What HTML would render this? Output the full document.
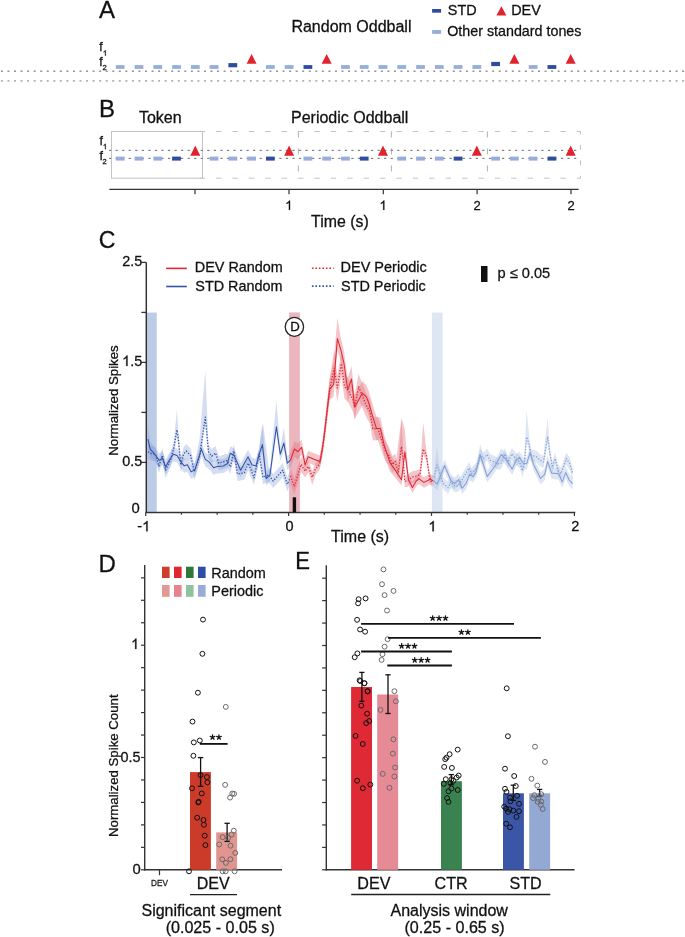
<!DOCTYPE html>
<html><head><meta charset="utf-8"><style>
html,body{margin:0;padding:0;background:#fff;}
svg{display:block;font-family:"Liberation Sans", sans-serif;will-change:transform;} text{stroke:#111;stroke-width:0.28px;}
</style></head><body>
<svg width="685" height="937" viewBox="0 0 685 937">
<rect width="685" height="937" fill="#fff"/>
<text x="99.00" y="17.80" font-size="24" fill="#111" >A</text>
<text x="291.42" y="31.50" font-size="16" fill="#111" >Random Oddball</text>
<rect x="432.10" y="9.00" width="9.00" height="3.70" fill="#2e4da0" />
<text x="447.85" y="15.10" font-size="14.4" fill="#111" >STD</text>
<polygon points="496.40,15.40 506.40,15.40 501.40,6.20" fill="#e0232e"/>
<text x="511.15" y="15.10" font-size="14.4" fill="#111" >DEV</text>
<rect x="432.10" y="30.00" width="9.00" height="3.90" fill="#97aedb" />
<text x="447.16" y="35.90" font-size="14.3" fill="#111" >Other standard tones</text>
<text x="99.22" y="50.80" font-size="12.2" fill="#111" >f</text>
<path d="M 0.372 0 L 0.284 0 L 0.284 -0.560 C 0.263 -0.540 0.235 -0.520 0.200 -0.499 C 0.165 -0.479 0.134 -0.463 0.106 -0.453 L 0.106 -0.538 C 0.155 -0.561 0.199 -0.589 0.236 -0.622 C 0.273 -0.655 0.299 -0.687 0.314 -0.716 L 0.372 -0.716 Z" transform="translate(102.83 55.80) scale(7.6)" fill="#111" stroke="#111" stroke-width="0.28" vector-effect="non-scaling-stroke"/>
<text x="99.22" y="65.60" font-size="12.2" fill="#111" >f</text>
<text x="102.52" y="70.40" font-size="7.6" fill="#111" >2</text>
<rect x="0.90" y="70.50" width="2.00" height="1.40" fill="#8a8a8a" />
<rect x="7.45" y="70.50" width="2.00" height="1.40" fill="#8a8a8a" />
<rect x="14.00" y="70.50" width="2.00" height="1.40" fill="#8a8a8a" />
<rect x="20.55" y="70.50" width="2.00" height="1.40" fill="#8a8a8a" />
<rect x="27.10" y="70.50" width="2.00" height="1.40" fill="#8a8a8a" />
<rect x="33.65" y="70.50" width="2.00" height="1.40" fill="#8a8a8a" />
<rect x="40.20" y="70.50" width="2.00" height="1.40" fill="#8a8a8a" />
<rect x="46.75" y="70.50" width="2.00" height="1.40" fill="#8a8a8a" />
<rect x="53.30" y="70.50" width="2.00" height="1.40" fill="#8a8a8a" />
<rect x="59.85" y="70.50" width="2.00" height="1.40" fill="#8a8a8a" />
<rect x="66.40" y="70.50" width="2.00" height="1.40" fill="#8a8a8a" />
<rect x="72.95" y="70.50" width="2.00" height="1.40" fill="#8a8a8a" />
<rect x="79.50" y="70.50" width="2.00" height="1.40" fill="#8a8a8a" />
<rect x="86.05" y="70.50" width="2.00" height="1.40" fill="#8a8a8a" />
<rect x="92.60" y="70.50" width="2.00" height="1.40" fill="#8a8a8a" />
<rect x="99.15" y="70.50" width="2.00" height="1.40" fill="#8a8a8a" />
<rect x="105.70" y="70.50" width="2.00" height="1.40" fill="#8a8a8a" />
<rect x="112.25" y="70.50" width="2.00" height="1.40" fill="#8a8a8a" />
<rect x="118.80" y="70.50" width="2.00" height="1.40" fill="#8a8a8a" />
<rect x="125.35" y="70.50" width="2.00" height="1.40" fill="#8a8a8a" />
<rect x="131.90" y="70.50" width="2.00" height="1.40" fill="#8a8a8a" />
<rect x="138.45" y="70.50" width="2.00" height="1.40" fill="#8a8a8a" />
<rect x="145.00" y="70.50" width="2.00" height="1.40" fill="#8a8a8a" />
<rect x="151.55" y="70.50" width="2.00" height="1.40" fill="#8a8a8a" />
<rect x="158.10" y="70.50" width="2.00" height="1.40" fill="#8a8a8a" />
<rect x="164.65" y="70.50" width="2.00" height="1.40" fill="#8a8a8a" />
<rect x="171.20" y="70.50" width="2.00" height="1.40" fill="#8a8a8a" />
<rect x="177.75" y="70.50" width="2.00" height="1.40" fill="#8a8a8a" />
<rect x="184.30" y="70.50" width="2.00" height="1.40" fill="#8a8a8a" />
<rect x="190.85" y="70.50" width="2.00" height="1.40" fill="#8a8a8a" />
<rect x="197.40" y="70.50" width="2.00" height="1.40" fill="#8a8a8a" />
<rect x="203.95" y="70.50" width="2.00" height="1.40" fill="#8a8a8a" />
<rect x="210.50" y="70.50" width="2.00" height="1.40" fill="#8a8a8a" />
<rect x="217.05" y="70.50" width="2.00" height="1.40" fill="#8a8a8a" />
<rect x="223.60" y="70.50" width="2.00" height="1.40" fill="#8a8a8a" />
<rect x="230.15" y="70.50" width="2.00" height="1.40" fill="#8a8a8a" />
<rect x="236.70" y="70.50" width="2.00" height="1.40" fill="#8a8a8a" />
<rect x="243.25" y="70.50" width="2.00" height="1.40" fill="#8a8a8a" />
<rect x="249.80" y="70.50" width="2.00" height="1.40" fill="#8a8a8a" />
<rect x="256.35" y="70.50" width="2.00" height="1.40" fill="#8a8a8a" />
<rect x="262.90" y="70.50" width="2.00" height="1.40" fill="#8a8a8a" />
<rect x="269.45" y="70.50" width="2.00" height="1.40" fill="#8a8a8a" />
<rect x="276.00" y="70.50" width="2.00" height="1.40" fill="#8a8a8a" />
<rect x="282.55" y="70.50" width="2.00" height="1.40" fill="#8a8a8a" />
<rect x="289.10" y="70.50" width="2.00" height="1.40" fill="#8a8a8a" />
<rect x="295.65" y="70.50" width="2.00" height="1.40" fill="#8a8a8a" />
<rect x="302.20" y="70.50" width="2.00" height="1.40" fill="#8a8a8a" />
<rect x="308.75" y="70.50" width="2.00" height="1.40" fill="#8a8a8a" />
<rect x="315.30" y="70.50" width="2.00" height="1.40" fill="#8a8a8a" />
<rect x="321.85" y="70.50" width="2.00" height="1.40" fill="#8a8a8a" />
<rect x="328.40" y="70.50" width="2.00" height="1.40" fill="#8a8a8a" />
<rect x="334.95" y="70.50" width="2.00" height="1.40" fill="#8a8a8a" />
<rect x="341.50" y="70.50" width="2.00" height="1.40" fill="#8a8a8a" />
<rect x="348.05" y="70.50" width="2.00" height="1.40" fill="#8a8a8a" />
<rect x="354.60" y="70.50" width="2.00" height="1.40" fill="#8a8a8a" />
<rect x="361.15" y="70.50" width="2.00" height="1.40" fill="#8a8a8a" />
<rect x="367.70" y="70.50" width="2.00" height="1.40" fill="#8a8a8a" />
<rect x="374.25" y="70.50" width="2.00" height="1.40" fill="#8a8a8a" />
<rect x="380.80" y="70.50" width="2.00" height="1.40" fill="#8a8a8a" />
<rect x="387.35" y="70.50" width="2.00" height="1.40" fill="#8a8a8a" />
<rect x="393.90" y="70.50" width="2.00" height="1.40" fill="#8a8a8a" />
<rect x="400.45" y="70.50" width="2.00" height="1.40" fill="#8a8a8a" />
<rect x="407.00" y="70.50" width="2.00" height="1.40" fill="#8a8a8a" />
<rect x="413.55" y="70.50" width="2.00" height="1.40" fill="#8a8a8a" />
<rect x="420.10" y="70.50" width="2.00" height="1.40" fill="#8a8a8a" />
<rect x="426.65" y="70.50" width="2.00" height="1.40" fill="#8a8a8a" />
<rect x="433.20" y="70.50" width="2.00" height="1.40" fill="#8a8a8a" />
<rect x="439.75" y="70.50" width="2.00" height="1.40" fill="#8a8a8a" />
<rect x="446.30" y="70.50" width="2.00" height="1.40" fill="#8a8a8a" />
<rect x="452.85" y="70.50" width="2.00" height="1.40" fill="#8a8a8a" />
<rect x="459.40" y="70.50" width="2.00" height="1.40" fill="#8a8a8a" />
<rect x="465.95" y="70.50" width="2.00" height="1.40" fill="#8a8a8a" />
<rect x="472.50" y="70.50" width="2.00" height="1.40" fill="#8a8a8a" />
<rect x="479.05" y="70.50" width="2.00" height="1.40" fill="#8a8a8a" />
<rect x="485.60" y="70.50" width="2.00" height="1.40" fill="#8a8a8a" />
<rect x="492.15" y="70.50" width="2.00" height="1.40" fill="#8a8a8a" />
<rect x="498.70" y="70.50" width="2.00" height="1.40" fill="#8a8a8a" />
<rect x="505.25" y="70.50" width="2.00" height="1.40" fill="#8a8a8a" />
<rect x="511.80" y="70.50" width="2.00" height="1.40" fill="#8a8a8a" />
<rect x="518.35" y="70.50" width="2.00" height="1.40" fill="#8a8a8a" />
<rect x="524.90" y="70.50" width="2.00" height="1.40" fill="#8a8a8a" />
<rect x="531.45" y="70.50" width="2.00" height="1.40" fill="#8a8a8a" />
<rect x="538.00" y="70.50" width="2.00" height="1.40" fill="#8a8a8a" />
<rect x="544.55" y="70.50" width="2.00" height="1.40" fill="#8a8a8a" />
<rect x="551.10" y="70.50" width="2.00" height="1.40" fill="#8a8a8a" />
<rect x="557.65" y="70.50" width="2.00" height="1.40" fill="#8a8a8a" />
<rect x="564.20" y="70.50" width="2.00" height="1.40" fill="#8a8a8a" />
<rect x="570.75" y="70.50" width="2.00" height="1.40" fill="#8a8a8a" />
<rect x="577.30" y="70.50" width="2.00" height="1.40" fill="#8a8a8a" />
<rect x="583.85" y="70.50" width="2.00" height="1.40" fill="#8a8a8a" />
<rect x="590.40" y="70.50" width="2.00" height="1.40" fill="#8a8a8a" />
<rect x="596.95" y="70.50" width="2.00" height="1.40" fill="#8a8a8a" />
<rect x="603.50" y="70.50" width="2.00" height="1.40" fill="#8a8a8a" />
<rect x="610.05" y="70.50" width="2.00" height="1.40" fill="#8a8a8a" />
<rect x="616.60" y="70.50" width="2.00" height="1.40" fill="#8a8a8a" />
<rect x="623.15" y="70.50" width="2.00" height="1.40" fill="#8a8a8a" />
<rect x="629.70" y="70.50" width="2.00" height="1.40" fill="#8a8a8a" />
<rect x="636.25" y="70.50" width="2.00" height="1.40" fill="#8a8a8a" />
<rect x="642.80" y="70.50" width="2.00" height="1.40" fill="#8a8a8a" />
<rect x="649.35" y="70.50" width="2.00" height="1.40" fill="#8a8a8a" />
<rect x="655.90" y="70.50" width="2.00" height="1.40" fill="#8a8a8a" />
<rect x="662.45" y="70.50" width="2.00" height="1.40" fill="#8a8a8a" />
<rect x="669.00" y="70.50" width="2.00" height="1.40" fill="#8a8a8a" />
<rect x="675.55" y="70.50" width="2.00" height="1.40" fill="#8a8a8a" />
<rect x="682.10" y="70.50" width="2.00" height="1.40" fill="#8a8a8a" />
<rect x="0.90" y="80.20" width="2.00" height="1.40" fill="#a0a0a0" />
<rect x="7.45" y="80.20" width="2.00" height="1.40" fill="#a0a0a0" />
<rect x="14.00" y="80.20" width="2.00" height="1.40" fill="#a0a0a0" />
<rect x="20.55" y="80.20" width="2.00" height="1.40" fill="#a0a0a0" />
<rect x="27.10" y="80.20" width="2.00" height="1.40" fill="#a0a0a0" />
<rect x="33.65" y="80.20" width="2.00" height="1.40" fill="#a0a0a0" />
<rect x="40.20" y="80.20" width="2.00" height="1.40" fill="#a0a0a0" />
<rect x="46.75" y="80.20" width="2.00" height="1.40" fill="#a0a0a0" />
<rect x="53.30" y="80.20" width="2.00" height="1.40" fill="#a0a0a0" />
<rect x="59.85" y="80.20" width="2.00" height="1.40" fill="#a0a0a0" />
<rect x="66.40" y="80.20" width="2.00" height="1.40" fill="#a0a0a0" />
<rect x="72.95" y="80.20" width="2.00" height="1.40" fill="#a0a0a0" />
<rect x="79.50" y="80.20" width="2.00" height="1.40" fill="#a0a0a0" />
<rect x="86.05" y="80.20" width="2.00" height="1.40" fill="#a0a0a0" />
<rect x="92.60" y="80.20" width="2.00" height="1.40" fill="#a0a0a0" />
<rect x="99.15" y="80.20" width="2.00" height="1.40" fill="#a0a0a0" />
<rect x="105.70" y="80.20" width="2.00" height="1.40" fill="#a0a0a0" />
<rect x="112.25" y="80.20" width="2.00" height="1.40" fill="#a0a0a0" />
<rect x="118.80" y="80.20" width="2.00" height="1.40" fill="#a0a0a0" />
<rect x="125.35" y="80.20" width="2.00" height="1.40" fill="#a0a0a0" />
<rect x="131.90" y="80.20" width="2.00" height="1.40" fill="#a0a0a0" />
<rect x="138.45" y="80.20" width="2.00" height="1.40" fill="#a0a0a0" />
<rect x="145.00" y="80.20" width="2.00" height="1.40" fill="#a0a0a0" />
<rect x="151.55" y="80.20" width="2.00" height="1.40" fill="#a0a0a0" />
<rect x="158.10" y="80.20" width="2.00" height="1.40" fill="#a0a0a0" />
<rect x="164.65" y="80.20" width="2.00" height="1.40" fill="#a0a0a0" />
<rect x="171.20" y="80.20" width="2.00" height="1.40" fill="#a0a0a0" />
<rect x="177.75" y="80.20" width="2.00" height="1.40" fill="#a0a0a0" />
<rect x="184.30" y="80.20" width="2.00" height="1.40" fill="#a0a0a0" />
<rect x="190.85" y="80.20" width="2.00" height="1.40" fill="#a0a0a0" />
<rect x="197.40" y="80.20" width="2.00" height="1.40" fill="#a0a0a0" />
<rect x="203.95" y="80.20" width="2.00" height="1.40" fill="#a0a0a0" />
<rect x="210.50" y="80.20" width="2.00" height="1.40" fill="#a0a0a0" />
<rect x="217.05" y="80.20" width="2.00" height="1.40" fill="#a0a0a0" />
<rect x="223.60" y="80.20" width="2.00" height="1.40" fill="#a0a0a0" />
<rect x="230.15" y="80.20" width="2.00" height="1.40" fill="#a0a0a0" />
<rect x="236.70" y="80.20" width="2.00" height="1.40" fill="#a0a0a0" />
<rect x="243.25" y="80.20" width="2.00" height="1.40" fill="#a0a0a0" />
<rect x="249.80" y="80.20" width="2.00" height="1.40" fill="#a0a0a0" />
<rect x="256.35" y="80.20" width="2.00" height="1.40" fill="#a0a0a0" />
<rect x="262.90" y="80.20" width="2.00" height="1.40" fill="#a0a0a0" />
<rect x="269.45" y="80.20" width="2.00" height="1.40" fill="#a0a0a0" />
<rect x="276.00" y="80.20" width="2.00" height="1.40" fill="#a0a0a0" />
<rect x="282.55" y="80.20" width="2.00" height="1.40" fill="#a0a0a0" />
<rect x="289.10" y="80.20" width="2.00" height="1.40" fill="#a0a0a0" />
<rect x="295.65" y="80.20" width="2.00" height="1.40" fill="#a0a0a0" />
<rect x="302.20" y="80.20" width="2.00" height="1.40" fill="#a0a0a0" />
<rect x="308.75" y="80.20" width="2.00" height="1.40" fill="#a0a0a0" />
<rect x="315.30" y="80.20" width="2.00" height="1.40" fill="#a0a0a0" />
<rect x="321.85" y="80.20" width="2.00" height="1.40" fill="#a0a0a0" />
<rect x="328.40" y="80.20" width="2.00" height="1.40" fill="#a0a0a0" />
<rect x="334.95" y="80.20" width="2.00" height="1.40" fill="#a0a0a0" />
<rect x="341.50" y="80.20" width="2.00" height="1.40" fill="#a0a0a0" />
<rect x="348.05" y="80.20" width="2.00" height="1.40" fill="#a0a0a0" />
<rect x="354.60" y="80.20" width="2.00" height="1.40" fill="#a0a0a0" />
<rect x="361.15" y="80.20" width="2.00" height="1.40" fill="#a0a0a0" />
<rect x="367.70" y="80.20" width="2.00" height="1.40" fill="#a0a0a0" />
<rect x="374.25" y="80.20" width="2.00" height="1.40" fill="#a0a0a0" />
<rect x="380.80" y="80.20" width="2.00" height="1.40" fill="#a0a0a0" />
<rect x="387.35" y="80.20" width="2.00" height="1.40" fill="#a0a0a0" />
<rect x="393.90" y="80.20" width="2.00" height="1.40" fill="#a0a0a0" />
<rect x="400.45" y="80.20" width="2.00" height="1.40" fill="#a0a0a0" />
<rect x="407.00" y="80.20" width="2.00" height="1.40" fill="#a0a0a0" />
<rect x="413.55" y="80.20" width="2.00" height="1.40" fill="#a0a0a0" />
<rect x="420.10" y="80.20" width="2.00" height="1.40" fill="#a0a0a0" />
<rect x="426.65" y="80.20" width="2.00" height="1.40" fill="#a0a0a0" />
<rect x="433.20" y="80.20" width="2.00" height="1.40" fill="#a0a0a0" />
<rect x="439.75" y="80.20" width="2.00" height="1.40" fill="#a0a0a0" />
<rect x="446.30" y="80.20" width="2.00" height="1.40" fill="#a0a0a0" />
<rect x="452.85" y="80.20" width="2.00" height="1.40" fill="#a0a0a0" />
<rect x="459.40" y="80.20" width="2.00" height="1.40" fill="#a0a0a0" />
<rect x="465.95" y="80.20" width="2.00" height="1.40" fill="#a0a0a0" />
<rect x="472.50" y="80.20" width="2.00" height="1.40" fill="#a0a0a0" />
<rect x="479.05" y="80.20" width="2.00" height="1.40" fill="#a0a0a0" />
<rect x="485.60" y="80.20" width="2.00" height="1.40" fill="#a0a0a0" />
<rect x="492.15" y="80.20" width="2.00" height="1.40" fill="#a0a0a0" />
<rect x="498.70" y="80.20" width="2.00" height="1.40" fill="#a0a0a0" />
<rect x="505.25" y="80.20" width="2.00" height="1.40" fill="#a0a0a0" />
<rect x="511.80" y="80.20" width="2.00" height="1.40" fill="#a0a0a0" />
<rect x="518.35" y="80.20" width="2.00" height="1.40" fill="#a0a0a0" />
<rect x="524.90" y="80.20" width="2.00" height="1.40" fill="#a0a0a0" />
<rect x="531.45" y="80.20" width="2.00" height="1.40" fill="#a0a0a0" />
<rect x="538.00" y="80.20" width="2.00" height="1.40" fill="#a0a0a0" />
<rect x="544.55" y="80.20" width="2.00" height="1.40" fill="#a0a0a0" />
<rect x="551.10" y="80.20" width="2.00" height="1.40" fill="#a0a0a0" />
<rect x="557.65" y="80.20" width="2.00" height="1.40" fill="#a0a0a0" />
<rect x="564.20" y="80.20" width="2.00" height="1.40" fill="#a0a0a0" />
<rect x="570.75" y="80.20" width="2.00" height="1.40" fill="#a0a0a0" />
<rect x="577.30" y="80.20" width="2.00" height="1.40" fill="#a0a0a0" />
<rect x="583.85" y="80.20" width="2.00" height="1.40" fill="#a0a0a0" />
<rect x="590.40" y="80.20" width="2.00" height="1.40" fill="#a0a0a0" />
<rect x="596.95" y="80.20" width="2.00" height="1.40" fill="#a0a0a0" />
<rect x="603.50" y="80.20" width="2.00" height="1.40" fill="#a0a0a0" />
<rect x="610.05" y="80.20" width="2.00" height="1.40" fill="#a0a0a0" />
<rect x="616.60" y="80.20" width="2.00" height="1.40" fill="#a0a0a0" />
<rect x="623.15" y="80.20" width="2.00" height="1.40" fill="#a0a0a0" />
<rect x="629.70" y="80.20" width="2.00" height="1.40" fill="#a0a0a0" />
<rect x="636.25" y="80.20" width="2.00" height="1.40" fill="#a0a0a0" />
<rect x="642.80" y="80.20" width="2.00" height="1.40" fill="#a0a0a0" />
<rect x="649.35" y="80.20" width="2.00" height="1.40" fill="#a0a0a0" />
<rect x="655.90" y="80.20" width="2.00" height="1.40" fill="#a0a0a0" />
<rect x="662.45" y="80.20" width="2.00" height="1.40" fill="#a0a0a0" />
<rect x="669.00" y="80.20" width="2.00" height="1.40" fill="#a0a0a0" />
<rect x="675.55" y="80.20" width="2.00" height="1.40" fill="#a0a0a0" />
<rect x="682.10" y="80.20" width="2.00" height="1.40" fill="#a0a0a0" />
<rect x="115.80" y="65.10" width="8.80" height="3.80" fill="#97aedb" />
<rect x="134.57" y="65.10" width="8.80" height="3.80" fill="#97aedb" />
<rect x="153.34" y="65.10" width="8.80" height="3.80" fill="#97aedb" />
<rect x="172.11" y="65.10" width="8.80" height="3.80" fill="#97aedb" />
<rect x="190.88" y="65.10" width="8.80" height="3.80" fill="#97aedb" />
<rect x="209.65" y="65.10" width="8.80" height="3.80" fill="#97aedb" />
<rect x="228.42" y="63.10" width="8.80" height="4.20" fill="#2e4da0" />
<polygon points="246.59,63.80 256.59,63.80 251.59,53.90" fill="#e0232e"/>
<rect x="265.96" y="65.10" width="8.80" height="3.80" fill="#97aedb" />
<rect x="284.73" y="65.10" width="8.80" height="3.80" fill="#97aedb" />
<rect x="303.50" y="65.10" width="8.80" height="3.80" fill="#2e4da0" />
<polygon points="321.67,63.80 331.67,63.80 326.67,53.90" fill="#e0232e"/>
<rect x="341.04" y="65.10" width="8.80" height="3.80" fill="#97aedb" />
<rect x="359.81" y="65.10" width="8.80" height="3.80" fill="#97aedb" />
<rect x="378.58" y="65.10" width="8.80" height="3.80" fill="#97aedb" />
<rect x="397.35" y="65.10" width="8.80" height="3.80" fill="#97aedb" />
<rect x="416.12" y="65.10" width="8.80" height="3.80" fill="#97aedb" />
<rect x="434.89" y="65.10" width="8.80" height="3.80" fill="#97aedb" />
<rect x="453.66" y="65.10" width="8.80" height="3.80" fill="#97aedb" />
<rect x="472.43" y="65.10" width="8.80" height="3.80" fill="#97aedb" />
<rect x="491.20" y="61.90" width="8.80" height="4.20" fill="#2e4da0" />
<polygon points="509.37,63.80 519.37,63.80 514.37,53.90" fill="#e0232e"/>
<rect x="528.74" y="65.10" width="8.80" height="3.80" fill="#97aedb" />
<rect x="547.51" y="65.10" width="8.80" height="3.80" fill="#2e4da0" />
<polygon points="565.68,63.80 575.68,63.80 570.68,53.90" fill="#e0232e"/>
<text x="98.98" y="116.50" font-size="24" fill="#111" >B</text>
<text x="138.98" y="123.00" font-size="16" fill="#111" >Token</text>
<text x="291.02" y="122.90" font-size="16" fill="#111" >Periodic Oddball</text>
<text x="99.41" y="145.00" font-size="12.5" fill="#111" >f</text>
<path d="M 0.372 0 L 0.284 0 L 0.284 -0.560 C 0.263 -0.540 0.235 -0.520 0.200 -0.499 C 0.165 -0.479 0.134 -0.463 0.106 -0.453 L 0.106 -0.538 C 0.155 -0.561 0.199 -0.589 0.236 -0.622 C 0.273 -0.655 0.299 -0.687 0.314 -0.716 L 0.372 -0.716 Z" transform="translate(102.84 149.20) scale(7.5)" fill="#111" stroke="#111" stroke-width="0.28" vector-effect="non-scaling-stroke"/>
<text x="99.41" y="160.00" font-size="12.5" fill="#111" >f</text>
<text x="102.42" y="164.00" font-size="7.5" fill="#111" >2</text>
<g stroke="#c4c4c4" stroke-width="1" fill="none">
<rect x="111.5" y="131.5" width="91" height="46.7"/>
</g>
<g stroke="#c4c4c4" stroke-width="1" fill="none" stroke-dasharray="5.4 11">
<line x1="199.6" y1="131.5" x2="580.4" y2="131.5"/>
<line x1="199.6" y1="178.2" x2="580.4" y2="178.2"/>
</g>
<g stroke="#b0b0b0" stroke-width="1" fill="none" stroke-dasharray="6 11">
<line x1="298.4" y1="131.4" x2="298.4" y2="178.4"/>
<line x1="391.4" y1="131.4" x2="391.4" y2="178.4"/>
<line x1="487.4" y1="131.4" x2="487.4" y2="178.4"/>
</g>
<line x1="580.4" y1="131.4" x2="580.4" y2="178.4" stroke="#bdbdbd" stroke-width="1" stroke-dasharray="4.8 10.6" stroke-dashoffset="1.8"/>
<rect x="109.00" y="149.80" width="2.20" height="1.20" fill="#7f7f7f" />
<rect x="115.55" y="149.80" width="2.20" height="1.20" fill="#7f7f7f" />
<rect x="122.10" y="149.80" width="2.20" height="1.20" fill="#7f7f7f" />
<rect x="128.65" y="149.80" width="2.20" height="1.20" fill="#7f7f7f" />
<rect x="135.20" y="149.80" width="2.20" height="1.20" fill="#7f7f7f" />
<rect x="141.75" y="149.80" width="2.20" height="1.20" fill="#7f7f7f" />
<rect x="148.30" y="149.80" width="2.20" height="1.20" fill="#7f7f7f" />
<rect x="154.85" y="149.80" width="2.20" height="1.20" fill="#7f7f7f" />
<rect x="161.40" y="149.80" width="2.20" height="1.20" fill="#7f7f7f" />
<rect x="167.95" y="149.80" width="2.20" height="1.20" fill="#7f7f7f" />
<rect x="174.50" y="149.80" width="2.20" height="1.20" fill="#7f7f7f" />
<rect x="181.05" y="149.80" width="2.20" height="1.20" fill="#7f7f7f" />
<rect x="187.60" y="149.80" width="2.20" height="1.20" fill="#7f7f7f" />
<rect x="194.15" y="149.80" width="2.20" height="1.20" fill="#7f7f7f" />
<rect x="200.70" y="149.80" width="2.20" height="1.20" fill="#7f7f7f" />
<rect x="207.25" y="149.80" width="2.20" height="1.20" fill="#7f7f7f" />
<rect x="213.80" y="149.80" width="2.20" height="1.20" fill="#7f7f7f" />
<rect x="220.35" y="149.80" width="2.20" height="1.20" fill="#7f7f7f" />
<rect x="226.90" y="149.80" width="2.20" height="1.20" fill="#7f7f7f" />
<rect x="233.45" y="149.80" width="2.20" height="1.20" fill="#7f7f7f" />
<rect x="240.00" y="149.80" width="2.20" height="1.20" fill="#7f7f7f" />
<rect x="246.55" y="149.80" width="2.20" height="1.20" fill="#7f7f7f" />
<rect x="253.10" y="149.80" width="2.20" height="1.20" fill="#7f7f7f" />
<rect x="259.65" y="149.80" width="2.20" height="1.20" fill="#7f7f7f" />
<rect x="266.20" y="149.80" width="2.20" height="1.20" fill="#7f7f7f" />
<rect x="272.75" y="149.80" width="2.20" height="1.20" fill="#7f7f7f" />
<rect x="279.30" y="149.80" width="2.20" height="1.20" fill="#7f7f7f" />
<rect x="285.85" y="149.80" width="2.20" height="1.20" fill="#7f7f7f" />
<rect x="292.40" y="149.80" width="2.20" height="1.20" fill="#7f7f7f" />
<rect x="298.95" y="149.80" width="2.20" height="1.20" fill="#7f7f7f" />
<rect x="305.50" y="149.80" width="2.20" height="1.20" fill="#7f7f7f" />
<rect x="312.05" y="149.80" width="2.20" height="1.20" fill="#7f7f7f" />
<rect x="318.60" y="149.80" width="2.20" height="1.20" fill="#7f7f7f" />
<rect x="325.15" y="149.80" width="2.20" height="1.20" fill="#7f7f7f" />
<rect x="331.70" y="149.80" width="2.20" height="1.20" fill="#7f7f7f" />
<rect x="338.25" y="149.80" width="2.20" height="1.20" fill="#7f7f7f" />
<rect x="344.80" y="149.80" width="2.20" height="1.20" fill="#7f7f7f" />
<rect x="351.35" y="149.80" width="2.20" height="1.20" fill="#7f7f7f" />
<rect x="357.90" y="149.80" width="2.20" height="1.20" fill="#7f7f7f" />
<rect x="364.45" y="149.80" width="2.20" height="1.20" fill="#7f7f7f" />
<rect x="371.00" y="149.80" width="2.20" height="1.20" fill="#7f7f7f" />
<rect x="377.55" y="149.80" width="2.20" height="1.20" fill="#7f7f7f" />
<rect x="384.10" y="149.80" width="2.20" height="1.20" fill="#7f7f7f" />
<rect x="390.65" y="149.80" width="2.20" height="1.20" fill="#7f7f7f" />
<rect x="397.20" y="149.80" width="2.20" height="1.20" fill="#7f7f7f" />
<rect x="403.75" y="149.80" width="2.20" height="1.20" fill="#7f7f7f" />
<rect x="410.30" y="149.80" width="2.20" height="1.20" fill="#7f7f7f" />
<rect x="416.85" y="149.80" width="2.20" height="1.20" fill="#7f7f7f" />
<rect x="423.40" y="149.80" width="2.20" height="1.20" fill="#7f7f7f" />
<rect x="429.95" y="149.80" width="2.20" height="1.20" fill="#7f7f7f" />
<rect x="436.50" y="149.80" width="2.20" height="1.20" fill="#7f7f7f" />
<rect x="443.05" y="149.80" width="2.20" height="1.20" fill="#7f7f7f" />
<rect x="449.60" y="149.80" width="2.20" height="1.20" fill="#7f7f7f" />
<rect x="456.15" y="149.80" width="2.20" height="1.20" fill="#7f7f7f" />
<rect x="462.70" y="149.80" width="2.20" height="1.20" fill="#7f7f7f" />
<rect x="469.25" y="149.80" width="2.20" height="1.20" fill="#7f7f7f" />
<rect x="475.80" y="149.80" width="2.20" height="1.20" fill="#7f7f7f" />
<rect x="482.35" y="149.80" width="2.20" height="1.20" fill="#7f7f7f" />
<rect x="488.90" y="149.80" width="2.20" height="1.20" fill="#7f7f7f" />
<rect x="495.45" y="149.80" width="2.20" height="1.20" fill="#7f7f7f" />
<rect x="502.00" y="149.80" width="2.20" height="1.20" fill="#7f7f7f" />
<rect x="508.55" y="149.80" width="2.20" height="1.20" fill="#7f7f7f" />
<rect x="515.10" y="149.80" width="2.20" height="1.20" fill="#7f7f7f" />
<rect x="521.65" y="149.80" width="2.20" height="1.20" fill="#7f7f7f" />
<rect x="528.20" y="149.80" width="2.20" height="1.20" fill="#7f7f7f" />
<rect x="534.75" y="149.80" width="2.20" height="1.20" fill="#7f7f7f" />
<rect x="541.30" y="149.80" width="2.20" height="1.20" fill="#7f7f7f" />
<rect x="547.85" y="149.80" width="2.20" height="1.20" fill="#7f7f7f" />
<rect x="554.40" y="149.80" width="2.20" height="1.20" fill="#7f7f7f" />
<rect x="560.95" y="149.80" width="2.20" height="1.20" fill="#7f7f7f" />
<rect x="567.50" y="149.80" width="2.20" height="1.20" fill="#7f7f7f" />
<rect x="574.05" y="149.80" width="2.20" height="1.20" fill="#7f7f7f" />
<rect x="109.00" y="157.80" width="2.20" height="1.20" fill="#7f7f7f" />
<rect x="115.55" y="157.80" width="2.20" height="1.20" fill="#7f7f7f" />
<rect x="122.10" y="157.80" width="2.20" height="1.20" fill="#7f7f7f" />
<rect x="128.65" y="157.80" width="2.20" height="1.20" fill="#7f7f7f" />
<rect x="135.20" y="157.80" width="2.20" height="1.20" fill="#7f7f7f" />
<rect x="141.75" y="157.80" width="2.20" height="1.20" fill="#7f7f7f" />
<rect x="148.30" y="157.80" width="2.20" height="1.20" fill="#7f7f7f" />
<rect x="154.85" y="157.80" width="2.20" height="1.20" fill="#7f7f7f" />
<rect x="161.40" y="157.80" width="2.20" height="1.20" fill="#7f7f7f" />
<rect x="167.95" y="157.80" width="2.20" height="1.20" fill="#7f7f7f" />
<rect x="174.50" y="157.80" width="2.20" height="1.20" fill="#7f7f7f" />
<rect x="181.05" y="157.80" width="2.20" height="1.20" fill="#7f7f7f" />
<rect x="187.60" y="157.80" width="2.20" height="1.20" fill="#7f7f7f" />
<rect x="194.15" y="157.80" width="2.20" height="1.20" fill="#7f7f7f" />
<rect x="200.70" y="157.80" width="2.20" height="1.20" fill="#7f7f7f" />
<rect x="207.25" y="157.80" width="2.20" height="1.20" fill="#7f7f7f" />
<rect x="213.80" y="157.80" width="2.20" height="1.20" fill="#7f7f7f" />
<rect x="220.35" y="157.80" width="2.20" height="1.20" fill="#7f7f7f" />
<rect x="226.90" y="157.80" width="2.20" height="1.20" fill="#7f7f7f" />
<rect x="233.45" y="157.80" width="2.20" height="1.20" fill="#7f7f7f" />
<rect x="240.00" y="157.80" width="2.20" height="1.20" fill="#7f7f7f" />
<rect x="246.55" y="157.80" width="2.20" height="1.20" fill="#7f7f7f" />
<rect x="253.10" y="157.80" width="2.20" height="1.20" fill="#7f7f7f" />
<rect x="259.65" y="157.80" width="2.20" height="1.20" fill="#7f7f7f" />
<rect x="266.20" y="157.80" width="2.20" height="1.20" fill="#7f7f7f" />
<rect x="272.75" y="157.80" width="2.20" height="1.20" fill="#7f7f7f" />
<rect x="279.30" y="157.80" width="2.20" height="1.20" fill="#7f7f7f" />
<rect x="285.85" y="157.80" width="2.20" height="1.20" fill="#7f7f7f" />
<rect x="292.40" y="157.80" width="2.20" height="1.20" fill="#7f7f7f" />
<rect x="298.95" y="157.80" width="2.20" height="1.20" fill="#7f7f7f" />
<rect x="305.50" y="157.80" width="2.20" height="1.20" fill="#7f7f7f" />
<rect x="312.05" y="157.80" width="2.20" height="1.20" fill="#7f7f7f" />
<rect x="318.60" y="157.80" width="2.20" height="1.20" fill="#7f7f7f" />
<rect x="325.15" y="157.80" width="2.20" height="1.20" fill="#7f7f7f" />
<rect x="331.70" y="157.80" width="2.20" height="1.20" fill="#7f7f7f" />
<rect x="338.25" y="157.80" width="2.20" height="1.20" fill="#7f7f7f" />
<rect x="344.80" y="157.80" width="2.20" height="1.20" fill="#7f7f7f" />
<rect x="351.35" y="157.80" width="2.20" height="1.20" fill="#7f7f7f" />
<rect x="357.90" y="157.80" width="2.20" height="1.20" fill="#7f7f7f" />
<rect x="364.45" y="157.80" width="2.20" height="1.20" fill="#7f7f7f" />
<rect x="371.00" y="157.80" width="2.20" height="1.20" fill="#7f7f7f" />
<rect x="377.55" y="157.80" width="2.20" height="1.20" fill="#7f7f7f" />
<rect x="384.10" y="157.80" width="2.20" height="1.20" fill="#7f7f7f" />
<rect x="390.65" y="157.80" width="2.20" height="1.20" fill="#7f7f7f" />
<rect x="397.20" y="157.80" width="2.20" height="1.20" fill="#7f7f7f" />
<rect x="403.75" y="157.80" width="2.20" height="1.20" fill="#7f7f7f" />
<rect x="410.30" y="157.80" width="2.20" height="1.20" fill="#7f7f7f" />
<rect x="416.85" y="157.80" width="2.20" height="1.20" fill="#7f7f7f" />
<rect x="423.40" y="157.80" width="2.20" height="1.20" fill="#7f7f7f" />
<rect x="429.95" y="157.80" width="2.20" height="1.20" fill="#7f7f7f" />
<rect x="436.50" y="157.80" width="2.20" height="1.20" fill="#7f7f7f" />
<rect x="443.05" y="157.80" width="2.20" height="1.20" fill="#7f7f7f" />
<rect x="449.60" y="157.80" width="2.20" height="1.20" fill="#7f7f7f" />
<rect x="456.15" y="157.80" width="2.20" height="1.20" fill="#7f7f7f" />
<rect x="462.70" y="157.80" width="2.20" height="1.20" fill="#7f7f7f" />
<rect x="469.25" y="157.80" width="2.20" height="1.20" fill="#7f7f7f" />
<rect x="475.80" y="157.80" width="2.20" height="1.20" fill="#7f7f7f" />
<rect x="482.35" y="157.80" width="2.20" height="1.20" fill="#7f7f7f" />
<rect x="488.90" y="157.80" width="2.20" height="1.20" fill="#7f7f7f" />
<rect x="495.45" y="157.80" width="2.20" height="1.20" fill="#7f7f7f" />
<rect x="502.00" y="157.80" width="2.20" height="1.20" fill="#7f7f7f" />
<rect x="508.55" y="157.80" width="2.20" height="1.20" fill="#7f7f7f" />
<rect x="515.10" y="157.80" width="2.20" height="1.20" fill="#7f7f7f" />
<rect x="521.65" y="157.80" width="2.20" height="1.20" fill="#7f7f7f" />
<rect x="528.20" y="157.80" width="2.20" height="1.20" fill="#7f7f7f" />
<rect x="534.75" y="157.80" width="2.20" height="1.20" fill="#7f7f7f" />
<rect x="541.30" y="157.80" width="2.20" height="1.20" fill="#7f7f7f" />
<rect x="547.85" y="157.80" width="2.20" height="1.20" fill="#7f7f7f" />
<rect x="554.40" y="157.80" width="2.20" height="1.20" fill="#7f7f7f" />
<rect x="560.95" y="157.80" width="2.20" height="1.20" fill="#7f7f7f" />
<rect x="567.50" y="157.80" width="2.20" height="1.20" fill="#7f7f7f" />
<rect x="574.05" y="157.80" width="2.20" height="1.20" fill="#7f7f7f" />
<rect x="115.80" y="156.60" width="8.80" height="4.00" fill="#97aedb" />
<rect x="134.57" y="156.60" width="8.80" height="4.00" fill="#97aedb" />
<rect x="153.34" y="156.60" width="8.80" height="4.00" fill="#97aedb" />
<rect x="172.11" y="156.60" width="8.80" height="4.00" fill="#2e4da0" />
<polygon points="190.28,155.70 200.28,155.70 195.28,145.50" fill="#e0232e"/>
<rect x="209.65" y="156.60" width="8.80" height="4.00" fill="#97aedb" />
<rect x="228.42" y="156.60" width="8.80" height="4.00" fill="#97aedb" />
<rect x="247.19" y="156.60" width="8.80" height="4.00" fill="#97aedb" />
<rect x="265.96" y="156.60" width="8.80" height="4.00" fill="#2e4da0" />
<polygon points="284.13,155.70 294.13,155.70 289.13,145.50" fill="#e0232e"/>
<rect x="303.50" y="156.60" width="8.80" height="4.00" fill="#97aedb" />
<rect x="322.27" y="156.60" width="8.80" height="4.00" fill="#97aedb" />
<rect x="341.04" y="156.60" width="8.80" height="4.00" fill="#97aedb" />
<rect x="359.81" y="156.60" width="8.80" height="4.00" fill="#2e4da0" />
<polygon points="377.98,155.70 387.98,155.70 382.98,145.50" fill="#e0232e"/>
<rect x="397.35" y="156.60" width="8.80" height="4.00" fill="#97aedb" />
<rect x="416.12" y="156.60" width="8.80" height="4.00" fill="#97aedb" />
<rect x="434.89" y="156.60" width="8.80" height="4.00" fill="#97aedb" />
<rect x="453.66" y="156.60" width="8.80" height="4.00" fill="#2e4da0" />
<polygon points="471.83,155.70 481.83,155.70 476.83,145.50" fill="#e0232e"/>
<rect x="491.20" y="156.60" width="8.80" height="4.00" fill="#97aedb" />
<rect x="509.97" y="156.60" width="8.80" height="4.00" fill="#97aedb" />
<rect x="528.74" y="156.60" width="8.80" height="4.00" fill="#97aedb" />
<rect x="547.51" y="156.60" width="8.80" height="4.00" fill="#2e4da0" />
<polygon points="565.68,155.70 575.68,155.70 570.68,145.50" fill="#e0232e"/>
<line x1="109.30" y1="189.30" x2="578.60" y2="189.30" stroke="#333" stroke-width="1.3" />
<line x1="195.00" y1="189.30" x2="195.00" y2="194.30" stroke="#333" stroke-width="1.2" />
<line x1="289.00" y1="189.30" x2="289.00" y2="194.30" stroke="#333" stroke-width="1.2" />
<line x1="383.30" y1="189.30" x2="383.30" y2="194.30" stroke="#333" stroke-width="1.2" />
<line x1="477.10" y1="189.30" x2="477.10" y2="194.30" stroke="#333" stroke-width="1.2" />
<line x1="571.00" y1="189.30" x2="571.00" y2="194.30" stroke="#333" stroke-width="1.2" />
<path d="M 0.372 0 L 0.284 0 L 0.284 -0.560 C 0.263 -0.540 0.235 -0.520 0.200 -0.499 C 0.165 -0.479 0.134 -0.463 0.106 -0.453 L 0.106 -0.538 C 0.155 -0.561 0.199 -0.589 0.236 -0.622 C 0.273 -0.655 0.299 -0.687 0.314 -0.716 L 0.372 -0.716 Z" transform="translate(285.20 209.90) scale(13)" fill="#111" stroke="#111" stroke-width="0.28" vector-effect="non-scaling-stroke"/>
<path d="M 0.372 0 L 0.284 0 L 0.284 -0.560 C 0.263 -0.540 0.235 -0.520 0.200 -0.499 C 0.165 -0.479 0.134 -0.463 0.106 -0.453 L 0.106 -0.538 C 0.155 -0.561 0.199 -0.589 0.236 -0.622 C 0.273 -0.655 0.299 -0.687 0.314 -0.716 L 0.372 -0.716 Z" transform="translate(379.50 209.90) scale(13)" fill="#111" stroke="#111" stroke-width="0.28" vector-effect="non-scaling-stroke"/>
<text x="473.49" y="209.90" font-size="13" fill="#111" >2</text>
<text x="567.39" y="209.90" font-size="13" fill="#111" >2</text>
<text x="311.08" y="227.30" font-size="15.9" fill="#111" >Time (s)</text>
<text x="98.75" y="247.60" font-size="23.0" fill="#111" >C</text>
<rect x="146.80" y="312.60" width="9.90" height="199.20" fill="#bccbe6" />
<rect x="289.10" y="312.40" width="10.80" height="199.40" fill="#ecb6bf" />
<rect x="431.90" y="312.60" width="10.70" height="199.20" fill="#dfe6f3" />
<g>
<polygon points="147.9,425.0 150.2,442.1 154.7,447.2 159.2,453.4 162.4,451.1 165.6,460.0 169.4,453.0 173.3,447.2 177.1,448.5 181.0,454.9 184.2,458.8 187.4,457.7 191.2,464.9 195.0,462.6 201.4,442.1 205.3,452.4 209.1,454.9 213.6,460.7 217.5,459.5 223.3,459.0 227.2,456.8 230.4,446.2 234.2,448.5 240.6,463.2 248.0,449.8 252.1,458.1 256.0,458.8 259.2,447.2 262.4,423.5 266.2,471.6 270.0,467.7 276.4,400.5 280.3,447.2 283.9,427.4 287.3,456.2 290.5,453.1 290.5,467.1 287.3,470.2 283.9,450.0 280.3,461.2 276.4,433.7 270.0,481.7 266.2,485.6 262.4,451.6 259.2,461.2 256.0,472.8 252.1,472.1 248.0,463.8 240.6,477.2 234.2,462.5 230.4,460.2 227.2,470.8 223.3,473.0 217.5,473.5 213.6,474.7 209.1,468.9 205.3,466.4 201.4,456.1 195.0,476.6 191.2,478.9 187.4,471.7 184.2,472.8 181.0,468.9 177.1,462.5 173.3,461.2 169.4,467.0 165.6,474.0 162.4,465.1 159.2,467.4 154.7,461.2 150.2,456.1 147.9,446.1" fill="#7d97d3" fill-opacity="0.33"/>
<polygon points="147.9,444.7 151.5,446.6 155.4,447.2 158.9,459.0 162.4,448.5 165.6,463.2 170.7,452.4 173.9,440.2 176.9,410.0 178.4,431.9 180.7,458.1 183.5,447.2 186.3,444.0 190.6,448.5 194.4,464.5 199.5,440.0 205.3,370.4 208.5,444.7 211.7,449.2 215.5,446.0 218.8,456.2 222.7,454.9 227.2,453.6 230.4,460.0 233.9,444.0 237.4,467.1 244.4,465.8 248.3,456.2 254.0,470.9 259.2,447.2 263.0,423.5 268.8,467.7 273.2,474.1 282.8,463.2 287.3,477.3 290.1,471.0 290.1,485.0 287.3,491.3 282.8,477.2 273.2,488.1 268.8,481.7 263.0,484.3 259.2,461.2 254.0,484.9 248.3,470.2 244.4,479.8 237.4,481.1 233.9,458.0 230.4,474.0 227.2,467.6 222.7,468.9 218.8,470.2 215.5,460.0 211.7,463.2 208.5,458.7 205.3,424.1 199.5,463.8 194.4,480.0 190.6,462.5 186.3,458.0 183.5,461.2 180.7,472.1 178.4,445.9 176.9,436.9 173.9,454.2 170.7,466.4 165.6,478.0 162.4,462.5 158.9,473.0 155.4,461.2 151.5,460.6 147.9,458.7" fill="#7d97d3" fill-opacity="0.33"/>
<polygon points="290.5,452.1 294.4,441.0 297.8,443.6 301.6,439.8 305.1,458.5 308.2,450.7 314.0,453.2 320.0,455.6 322.5,440.9 325.1,419.9 327.2,400.2 329.7,378.6 333.6,362.0 337.4,318.0 340.6,336.8 343.8,350.3 347.7,377.9 351.5,366.0 354.7,395.2 362.4,381.1 366.3,384.9 368.8,391.0 373.3,406.4 376.5,416.9 380.4,417.5 384.2,435.1 390.0,453.6 395.7,463.6 401.5,418.0 404.9,430.0 408.5,474.1 412.4,481.9 416.2,475.6 418.8,473.2 423.9,477.1 430.3,474.1 433.5,476.1 433.5,486.1 430.3,484.3 423.9,487.7 418.8,484.0 416.2,486.6 412.4,493.1 408.5,485.6 404.9,457.6 401.5,485.8 395.7,478.2 390.0,471.6 384.2,455.5 380.4,439.3 376.5,440.3 373.3,430.4 368.8,415.0 366.3,408.9 362.4,405.1 354.7,419.2 351.5,391.0 347.7,401.9 343.8,374.3 340.6,360.8 337.4,350.6 333.6,396.7 329.7,399.8 327.2,419.2 325.1,437.1 322.5,455.4 320.0,467.6 314.0,465.2 308.2,462.7 305.1,471.1 301.6,454.8 297.8,459.6 294.4,457.0 290.5,468.1" fill="#e07080" fill-opacity="0.4"/>
<polygon points="290.5,467.9 294.4,478.6 297.8,466.6 301.2,456.8 305.1,464.9 308.5,460.5 312.3,471.2 315.3,463.5 319.6,457.9 322.5,440.9 325.1,419.9 327.2,400.2 329.7,378.6 334.2,350.0 337.4,376.0 341.3,351.6 344.5,374.7 348.3,378.5 352.8,387.5 354.7,395.2 358.6,374.0 366.3,393.3 370.1,400.0 372.7,416.6 377.8,417.2 381.6,429.5 385.5,441.8 388.7,446.2 392.5,456.2 395.1,453.8 398.3,465.7 401.5,418.4 403.4,456.0 404.7,475.2 407.2,475.3 411.7,471.6 416.2,470.5 420.0,469.3 423.2,422.2 426.4,450.3 429.6,472.2 431.6,477.3 431.6,487.5 429.6,482.4 426.4,460.7 423.2,454.4 420.0,480.1 416.2,481.5 411.7,483.0 407.2,486.9 404.7,487.0 403.4,467.8 401.5,452.6 398.3,478.7 395.1,468.8 392.5,472.8 388.7,464.8 385.5,461.6 381.6,450.9 377.8,440.0 372.7,440.6 370.1,424.0 366.3,417.3 358.6,398.7 354.7,419.2 352.8,411.5 348.3,402.5 344.5,398.7 341.3,375.6 337.4,402.0 334.2,380.1 329.7,399.8 327.2,419.2 325.1,437.1 322.5,455.4 319.6,469.9 315.3,475.5 312.3,485.0 308.5,472.5 305.1,477.5 301.2,472.0 297.8,482.6 294.4,494.6 290.5,483.9" fill="#e07080" fill-opacity="0.4"/>
<polygon points="433.5,474.7 437.2,478.2 444.6,459.5 451.0,474.7 454.5,477.6 458.6,473.6 462.1,482.3 466.2,477.1 469.7,468.3 473.2,470.6 476.1,465.4 480.2,444.0 487.2,470.6 495.4,459.5 501.2,448.5 505.9,453.1 509.1,458.4 512.2,463.1 516.1,454.3 519.6,451.4 523.1,457.2 526.6,457.8 530.1,446.7 533.6,458.4 540.6,472.4 544.7,468.3 547.6,455.5 551.7,467.1 558.7,467.7 562.2,475.9 565.7,466.6 569.2,474.1 572.7,477.6 572.7,489.6 569.2,486.1 565.7,478.6 562.2,487.9 558.7,479.7 551.7,479.1 547.6,467.5 544.7,480.3 540.6,484.4 533.6,470.4 530.1,458.7 526.6,469.8 523.1,469.2 519.6,463.4 516.1,466.3 512.2,475.1 509.1,470.4 505.9,465.1 501.2,460.5 495.4,471.5 487.2,482.6 480.2,461.0 476.1,477.4 473.2,482.6 469.7,480.3 466.2,489.1 462.1,494.3 458.6,485.6 454.5,489.6 451.0,486.7 444.6,471.5 437.2,490.2 433.5,486.7" fill="#a9bde3" fill-opacity="0.38"/>
<polygon points="434.1,471.2 437.0,447.0 439.3,465.4 441.7,473.6 444.0,478.2 448.1,481.7 451.0,475.9 454.5,480.0 458.0,480.0 461.5,474.7 465.0,468.9 469.1,461.9 471.5,467.7 476.7,461.9 480.2,449.0 483.7,452.5 487.2,448.5 490.1,454.3 493.6,455.5 497.7,457.8 501.2,457.2 504.7,447.9 507.9,456.0 512.0,447.9 515.5,452.5 519.6,456.0 522.5,464.8 524.3,457.2 526.6,409.9 529.5,439.1 530.7,449.0 536.5,450.8 540.0,454.3 543.5,456.0 547.6,417.2 550.0,447.9 552.3,461.3 555.2,452.5 558.1,464.8 561.1,467.7 566.3,452.5 569.8,457.8 572.7,467.7 572.7,479.7 569.8,469.8 566.3,464.5 561.1,479.7 558.1,476.8 555.2,464.5 552.3,473.3 550.0,459.9 547.6,442.9 543.5,468.0 540.0,466.3 536.5,462.8 530.7,461.0 529.5,451.1 526.6,442.9 524.3,469.2 522.5,476.8 519.6,468.0 515.5,464.5 512.0,459.9 507.9,468.0 504.7,459.9 501.2,469.2 497.7,469.8 493.6,467.5 490.1,466.3 487.2,460.5 483.7,464.5 480.2,461.0 476.7,473.9 471.5,479.7 469.1,473.9 465.0,480.9 461.5,486.7 458.0,492.0 454.5,492.0 451.0,487.9 448.1,493.7 444.0,490.2 441.7,485.6 439.3,477.4 437.0,471.0 434.1,483.2" fill="#a9bde3" fill-opacity="0.38"/>
</g>
<polyline points="147.9,451.7 151.5,453.6 155.4,454.2 158.9,466.0 162.4,455.5 165.6,470.2 170.7,459.4 173.9,447.2 176.9,429.9 178.4,438.9 180.7,465.1 183.5,454.2 186.3,451.0 190.6,455.5 194.4,471.5 199.5,456.8 205.3,417.1 208.5,451.7 211.7,456.2 215.5,453.0 218.8,463.2 222.7,461.9 227.2,460.6 230.4,467.0 233.9,451.0 237.4,474.1 244.4,472.8 248.3,463.2 254.0,477.9 259.2,454.2 263.0,477.3 268.8,474.7 273.2,481.1 282.8,470.2 287.3,484.3 290.1,478.0" fill="none" stroke="#3352a6" stroke-width="1.3" stroke-linejoin="round" stroke-dasharray="1.3 1.6"/>
<polyline points="147.9,439.1 150.2,449.1 154.7,454.2 159.2,460.4 162.4,458.1 165.6,467.0 169.4,460.0 173.3,454.2 177.1,455.5 181.0,461.9 184.2,465.8 187.4,464.7 191.2,471.9 195.0,469.6 201.4,449.1 205.3,459.4 209.1,461.9 213.6,467.7 217.5,466.5 223.3,466.0 227.2,463.8 230.4,453.2 234.2,455.5 240.6,470.2 248.0,456.8 252.1,465.1 256.0,465.8 259.2,454.2 262.4,444.6 266.2,478.6 270.0,474.7 276.4,426.7 280.3,454.2 283.9,443.0 287.3,463.2 290.5,460.1" fill="none" stroke="#3352a6" stroke-width="1.05" stroke-linejoin="round" />
<polyline points="290.5,475.9 294.4,486.6 297.8,474.6 301.2,464.4 305.1,471.2 308.5,466.5 312.3,477.2 315.3,469.5 319.6,463.9 322.5,448.2 325.1,428.5 327.2,409.7 329.7,389.2 334.2,368.1 337.4,388.0 341.3,363.6 344.5,386.7 348.3,390.5 352.8,399.5 354.7,407.2 358.6,386.7 366.3,405.3 370.1,412.0 372.7,428.6 377.8,428.6 381.6,440.2 385.5,451.7 388.7,455.5 392.5,464.5 395.1,461.3 398.3,472.2 401.5,446.6 403.4,461.9 404.7,481.1 407.2,481.1 411.7,477.3 416.2,476.0 420.0,474.7 423.2,449.1 426.4,455.5 429.6,477.3 431.6,482.4" fill="none" stroke="#e2262f" stroke-width="1.3" stroke-linejoin="round" stroke-dasharray="1.3 1.6"/>
<polyline points="290.5,460.1 294.4,449.0 297.8,451.6 301.6,447.3 305.1,464.8 308.2,456.7 314.0,459.2 320.0,461.6 322.5,448.2 325.1,428.5 327.2,409.7 329.7,389.2 333.6,384.7 337.4,338.6 340.6,348.8 343.8,362.3 347.7,389.9 351.5,379.0 354.7,407.2 362.4,393.1 366.3,396.9 368.8,403.0 373.3,418.4 376.5,428.6 380.4,428.4 384.2,445.3 390.0,462.6 395.7,470.9 401.5,479.8 404.9,451.7 408.5,479.8 412.4,487.5 416.2,481.1 418.8,478.6 423.9,482.4 430.3,479.2 433.5,481.1" fill="none" stroke="#e2262f" stroke-width="1.05" stroke-linejoin="round" />
<polyline points="434.1,477.2 437.0,465.0 439.3,471.4 441.7,479.6 444.0,484.2 448.1,487.7 451.0,481.9 454.5,486.0 458.0,486.0 461.5,480.7 465.0,474.9 469.1,467.9 471.5,473.7 476.7,467.9 480.2,455.0 483.7,458.5 487.2,454.5 490.1,460.3 493.6,461.5 497.7,463.8 501.2,463.2 504.7,453.9 507.9,462.0 512.0,453.9 515.5,458.5 519.6,462.0 522.5,470.8 524.3,463.2 526.6,436.9 529.5,445.1 530.7,455.0 536.5,456.8 540.0,460.3 543.5,462.0 547.6,436.9 550.0,453.9 552.3,467.3 555.2,458.5 558.1,470.8 561.1,473.7 566.3,458.5 569.8,463.8 572.7,473.7" fill="none" stroke="#86a1d6" stroke-width="1.3" stroke-linejoin="round" stroke-dasharray="1.3 1.6"/>
<polyline points="433.5,480.7 437.2,484.2 444.6,465.5 451.0,480.7 454.5,483.6 458.6,479.6 462.1,488.3 466.2,483.1 469.7,474.3 473.2,476.6 476.1,471.4 480.2,455.0 487.2,476.6 495.4,465.5 501.2,454.5 505.9,459.1 509.1,464.4 512.2,469.1 516.1,460.3 519.6,457.4 523.1,463.2 526.6,463.8 530.1,452.7 533.6,464.4 540.6,478.4 544.7,474.3 547.6,461.5 551.7,473.1 558.7,473.7 562.2,481.9 565.7,472.6 569.2,480.1 572.7,483.6" fill="none" stroke="#86a1d6" stroke-width="1.1" stroke-linejoin="round" />
<line x1="146.30" y1="262.40" x2="146.30" y2="513.10" stroke="#333" stroke-width="1.5" />
<line x1="145.60" y1="512.40" x2="575.30" y2="512.40" stroke="#333" stroke-width="1.5" />
<line x1="141.40" y1="462.40" x2="146.30" y2="462.40" stroke="#333" stroke-width="1.3" />
<line x1="141.40" y1="412.40" x2="146.30" y2="412.40" stroke="#333" stroke-width="1.3" />
<line x1="141.40" y1="362.40" x2="146.30" y2="362.40" stroke="#333" stroke-width="1.3" />
<line x1="141.40" y1="312.40" x2="146.30" y2="312.40" stroke="#333" stroke-width="1.3" />
<line x1="141.40" y1="262.40" x2="146.30" y2="262.40" stroke="#333" stroke-width="1.3" />
<line x1="145.70" y1="512.40" x2="145.70" y2="515.90" stroke="#333" stroke-width="1.2" />
<line x1="181.43" y1="512.40" x2="181.43" y2="514.70" stroke="#333" stroke-width="1.2" />
<line x1="217.15" y1="512.40" x2="217.15" y2="514.70" stroke="#333" stroke-width="1.2" />
<line x1="252.88" y1="512.40" x2="252.88" y2="514.70" stroke="#333" stroke-width="1.2" />
<line x1="288.60" y1="512.40" x2="288.60" y2="515.90" stroke="#333" stroke-width="1.2" />
<line x1="324.33" y1="512.40" x2="324.33" y2="514.70" stroke="#333" stroke-width="1.2" />
<line x1="360.05" y1="512.40" x2="360.05" y2="514.70" stroke="#333" stroke-width="1.2" />
<line x1="395.78" y1="512.40" x2="395.78" y2="514.70" stroke="#333" stroke-width="1.2" />
<line x1="431.50" y1="512.40" x2="431.50" y2="515.90" stroke="#333" stroke-width="1.2" />
<line x1="467.23" y1="512.40" x2="467.23" y2="514.70" stroke="#333" stroke-width="1.2" />
<line x1="502.95" y1="512.40" x2="502.95" y2="514.70" stroke="#333" stroke-width="1.2" />
<line x1="538.68" y1="512.40" x2="538.68" y2="514.70" stroke="#333" stroke-width="1.2" />
<line x1="574.40" y1="512.40" x2="574.40" y2="515.90" stroke="#333" stroke-width="1.2" />
<text x="122.26" y="265.80" font-size="14.4" fill="#111" >2.5</text>
<path d="M 0.372 0 L 0.284 0 L 0.284 -0.560 C 0.263 -0.540 0.235 -0.520 0.200 -0.499 C 0.165 -0.479 0.134 -0.463 0.106 -0.453 L 0.106 -0.538 C 0.155 -0.561 0.199 -0.589 0.236 -0.622 C 0.273 -0.655 0.299 -0.687 0.314 -0.716 L 0.372 -0.716 Z" transform="translate(122.16 365.90) scale(14.4)" fill="#111" stroke="#111" stroke-width="0.28" vector-effect="non-scaling-stroke"/>
<text x="130.17" y="365.90" font-size="14.4" fill="#111" >.5</text>
<text x="122.16" y="466.00" font-size="14.4" fill="#111" >0.5</text>
<text x="131.40" y="512.80" font-size="14.8" fill="#111" >0</text>
<text x="137.35" y="531.30" font-size="14.5" fill="#111" >-</text>
<path d="M 0.372 0 L 0.284 0 L 0.284 -0.560 C 0.263 -0.540 0.235 -0.520 0.200 -0.499 C 0.165 -0.479 0.134 -0.463 0.106 -0.453 L 0.106 -0.538 C 0.155 -0.561 0.199 -0.589 0.236 -0.622 C 0.273 -0.655 0.299 -0.687 0.314 -0.716 L 0.372 -0.716 Z" transform="translate(142.18 531.30) scale(14.5)" fill="#111" stroke="#111" stroke-width="0.28" vector-effect="non-scaling-stroke"/>
<text x="285.44" y="531.30" font-size="14.5" fill="#111" >0</text>
<path d="M 0.372 0 L 0.284 0 L 0.284 -0.560 C 0.263 -0.540 0.235 -0.520 0.200 -0.499 C 0.165 -0.479 0.134 -0.463 0.106 -0.453 L 0.106 -0.538 C 0.155 -0.561 0.199 -0.589 0.236 -0.622 C 0.273 -0.655 0.299 -0.687 0.314 -0.716 L 0.372 -0.716 Z" transform="translate(428.36 531.30) scale(14.5)" fill="#111" stroke="#111" stroke-width="0.28" vector-effect="non-scaling-stroke"/>
<text x="571.18" y="531.30" font-size="14.5" fill="#111" >2</text>
<text x="331.08" y="541.60" font-size="16" fill="#111" >Time (s)</text>
<text x="118.30" y="400.50" font-size="13.26" text-anchor="middle" fill="#111" transform="rotate(-90 118.3 400.5)">Normalized Spikes</text>
<line x1="166.20" y1="268.40" x2="186.80" y2="268.40" stroke="#e2262f" stroke-width="1.6" />
<line x1="166.20" y1="286.50" x2="186.80" y2="286.50" stroke="#3352a6" stroke-width="1.6" />
<line x1="311.90" y1="268.30" x2="333.60" y2="268.30" stroke="#e2262f" stroke-width="1.6" stroke-dasharray="1.6 1.9"/>
<line x1="311.90" y1="286.10" x2="333.60" y2="286.10" stroke="#3352a6" stroke-width="1.6" stroke-dasharray="1.6 1.9"/>
<text x="194.85" y="272.40" font-size="14.4" fill="#111" >DEV Random</text>
<text x="195.35" y="290.50" font-size="14.4" fill="#111" >STD Random</text>
<text x="340.54" y="272.40" font-size="14.5" fill="#111" >DEV Periodic</text>
<text x="341.05" y="290.50" font-size="14.4" fill="#111" >STD Periodic</text>
<rect x="481.00" y="266.00" width="6.50" height="16.00" fill="#111" />
<text x="497.55" y="278.40" font-size="14.6" fill="#111" >p ≤ 0.05</text>
<rect x="292.70" y="497.30" width="3.40" height="15.10" fill="#111" />
<ellipse cx="294.4" cy="326.8" rx="9.2" ry="9.5" fill="#fff" stroke="#222" stroke-width="1.3"/>
<text x="290.22" y="330.80" font-size="13.2" fill="#111" stroke="#111" stroke-width="0.35">D</text>
<text x="98.58" y="571.90" font-size="24" fill="#111" >D</text>
<line x1="144.70" y1="565.00" x2="144.70" y2="870.50" stroke="#333" stroke-width="1.4" />
<line x1="144.00" y1="869.80" x2="282.00" y2="869.80" stroke="#333" stroke-width="1.4" />
<line x1="141.00" y1="869.80" x2="144.70" y2="869.80" stroke="#333" stroke-width="1.2" />
<line x1="141.00" y1="847.34" x2="144.70" y2="847.34" stroke="#333" stroke-width="1.2" />
<line x1="141.00" y1="824.88" x2="144.70" y2="824.88" stroke="#333" stroke-width="1.2" />
<line x1="141.00" y1="802.42" x2="144.70" y2="802.42" stroke="#333" stroke-width="1.2" />
<line x1="141.00" y1="779.96" x2="144.70" y2="779.96" stroke="#333" stroke-width="1.2" />
<line x1="141.00" y1="757.50" x2="144.70" y2="757.50" stroke="#333" stroke-width="1.2" />
<line x1="141.00" y1="735.04" x2="144.70" y2="735.04" stroke="#333" stroke-width="1.2" />
<line x1="141.00" y1="712.58" x2="144.70" y2="712.58" stroke="#333" stroke-width="1.2" />
<line x1="141.00" y1="690.12" x2="144.70" y2="690.12" stroke="#333" stroke-width="1.2" />
<line x1="141.00" y1="667.66" x2="144.70" y2="667.66" stroke="#333" stroke-width="1.2" />
<line x1="141.00" y1="645.20" x2="144.70" y2="645.20" stroke="#333" stroke-width="1.2" />
<line x1="141.00" y1="622.74" x2="144.70" y2="622.74" stroke="#333" stroke-width="1.2" />
<line x1="141.00" y1="600.28" x2="144.70" y2="600.28" stroke="#333" stroke-width="1.2" />
<line x1="141.00" y1="577.82" x2="144.70" y2="577.82" stroke="#333" stroke-width="1.2" />
<path d="M 0.372 0 L 0.284 0 L 0.284 -0.560 C 0.263 -0.540 0.235 -0.520 0.200 -0.499 C 0.165 -0.479 0.134 -0.463 0.106 -0.453 L 0.106 -0.538 C 0.155 -0.561 0.199 -0.589 0.236 -0.622 C 0.273 -0.655 0.299 -0.687 0.314 -0.716 L 0.372 -0.716 Z" transform="translate(131.06 648.90) scale(14.4)" fill="#111" stroke="#111" stroke-width="0.28" vector-effect="non-scaling-stroke"/>
<text x="120.56" y="761.70" font-size="14.4" fill="#111" >0.5</text>
<text x="132.50" y="873.60" font-size="14.8" fill="#111" >0</text>
<text x="117.90" y="765.70" font-size="13.22" text-anchor="middle" fill="#111" transform="rotate(-90 117.9 765.7)">Normalized Spike Count</text>
<rect x="162.00" y="566.70" width="7.60" height="11.30" fill="#cc3d2b" />
<rect x="162.00" y="585.00" width="7.60" height="11.80" fill="#e09a93" />
<rect x="174.00" y="566.70" width="7.60" height="11.30" fill="#e0262f" />
<rect x="174.00" y="585.00" width="7.60" height="11.80" fill="#e5848f" />
<rect x="186.00" y="566.70" width="7.60" height="11.30" fill="#2e7a3c" />
<rect x="186.00" y="585.00" width="7.60" height="11.80" fill="#8dc39f" />
<rect x="198.00" y="566.70" width="7.60" height="11.30" fill="#2c4ea6" />
<rect x="198.00" y="585.00" width="7.60" height="11.80" fill="#99acd8" />
<text x="211.34" y="577.50" font-size="14.45" fill="#111" >Random</text>
<text x="211.34" y="595.60" font-size="14.45" fill="#111" >Periodic</text>
<rect x="190.00" y="772.10" width="20.90" height="97.70" fill="#cc3b2a" />
<rect x="216.20" y="832.40" width="20.90" height="37.40" fill="#e0958f" />
<line x1="200.60" y1="757.60" x2="200.60" y2="786.30" stroke="#111" stroke-width="1.3" />
<line x1="197.90" y1="757.60" x2="203.30" y2="757.60" stroke="#111" stroke-width="1.3" />
<line x1="197.90" y1="786.30" x2="203.30" y2="786.30" stroke="#111" stroke-width="1.3" />
<line x1="227.10" y1="823.30" x2="227.10" y2="841.40" stroke="#111" stroke-width="1.3" />
<line x1="224.50" y1="823.30" x2="229.80" y2="823.30" stroke="#111" stroke-width="1.3" />
<line x1="224.50" y1="841.40" x2="229.80" y2="841.40" stroke="#111" stroke-width="1.3" />
<circle cx="189.00" cy="871.30" r="2.45" fill="none" stroke="#111" stroke-width="1.0"/>
<circle cx="203.00" cy="619.60" r="2.45" fill="none" stroke="#111" stroke-width="1.0"/>
<circle cx="202.40" cy="653.80" r="2.45" fill="none" stroke="#111" stroke-width="1.0"/>
<circle cx="197.90" cy="692.70" r="2.45" fill="none" stroke="#111" stroke-width="1.0"/>
<circle cx="192.50" cy="721.60" r="2.45" fill="none" stroke="#111" stroke-width="1.0"/>
<circle cx="193.80" cy="742.40" r="2.45" fill="none" stroke="#111" stroke-width="1.0"/>
<circle cx="199.80" cy="740.50" r="2.45" fill="none" stroke="#111" stroke-width="1.0"/>
<circle cx="193.40" cy="755.80" r="2.45" fill="none" stroke="#111" stroke-width="1.0"/>
<circle cx="200.60" cy="775.10" r="2.45" fill="none" stroke="#111" stroke-width="1.0"/>
<circle cx="206.90" cy="777.10" r="2.45" fill="none" stroke="#111" stroke-width="1.0"/>
<circle cx="207.40" cy="782.30" r="2.45" fill="none" stroke="#111" stroke-width="1.0"/>
<circle cx="192.00" cy="788.30" r="2.45" fill="none" stroke="#111" stroke-width="1.0"/>
<circle cx="201.70" cy="793.50" r="2.45" fill="none" stroke="#111" stroke-width="1.0"/>
<circle cx="198.70" cy="801.70" r="2.45" fill="none" stroke="#111" stroke-width="1.0"/>
<circle cx="198.20" cy="802.50" r="2.45" fill="none" stroke="#111" stroke-width="1.0"/>
<circle cx="197.20" cy="817.70" r="2.45" fill="none" stroke="#111" stroke-width="1.0"/>
<circle cx="203.50" cy="820.00" r="2.45" fill="none" stroke="#111" stroke-width="1.0"/>
<circle cx="203.90" cy="824.80" r="2.45" fill="none" stroke="#111" stroke-width="1.0"/>
<circle cx="204.70" cy="835.70" r="2.45" fill="none" stroke="#111" stroke-width="1.0"/>
<circle cx="205.40" cy="845.10" r="2.45" fill="none" stroke="#111" stroke-width="1.0"/>
<circle cx="225.80" cy="706.90" r="2.45" fill="none" stroke="#6a6a6a" stroke-width="1.0"/>
<circle cx="225.10" cy="784.90" r="2.45" fill="none" stroke="#6a6a6a" stroke-width="1.0"/>
<circle cx="232.30" cy="793.50" r="2.45" fill="none" stroke="#6a6a6a" stroke-width="1.0"/>
<circle cx="234.10" cy="793.80" r="2.45" fill="none" stroke="#6a6a6a" stroke-width="1.0"/>
<circle cx="230.10" cy="797.60" r="2.45" fill="none" stroke="#6a6a6a" stroke-width="1.0"/>
<circle cx="233.80" cy="830.70" r="2.45" fill="none" stroke="#6a6a6a" stroke-width="1.0"/>
<circle cx="231.60" cy="834.50" r="2.45" fill="none" stroke="#6a6a6a" stroke-width="1.0"/>
<circle cx="222.60" cy="837.20" r="2.45" fill="none" stroke="#6a6a6a" stroke-width="1.0"/>
<circle cx="228.10" cy="837.90" r="2.45" fill="none" stroke="#6a6a6a" stroke-width="1.0"/>
<circle cx="219.20" cy="844.40" r="2.45" fill="none" stroke="#6a6a6a" stroke-width="1.0"/>
<circle cx="230.50" cy="845.70" r="2.45" fill="none" stroke="#6a6a6a" stroke-width="1.0"/>
<circle cx="235.30" cy="852.90" r="2.45" fill="none" stroke="#6a6a6a" stroke-width="1.0"/>
<circle cx="222.20" cy="859.30" r="2.45" fill="none" stroke="#6a6a6a" stroke-width="1.0"/>
<circle cx="230.40" cy="859.20" r="2.45" fill="none" stroke="#6a6a6a" stroke-width="1.0"/>
<circle cx="225.90" cy="862.90" r="2.45" fill="none" stroke="#6a6a6a" stroke-width="1.0"/>
<circle cx="222.60" cy="871.30" r="2.45" fill="none" stroke="#6a6a6a" stroke-width="1.0"/>
<circle cx="225.60" cy="871.30" r="2.45" fill="none" stroke="#6a6a6a" stroke-width="1.0"/>
<circle cx="234.60" cy="871.30" r="2.45" fill="none" stroke="#6a6a6a" stroke-width="1.0"/>
<line x1="199.80" y1="743.90" x2="227.60" y2="743.90" stroke="#111" stroke-width="1.8" />
<path d="M212.55,737.25 L212.55,734.80 M212.55,737.25 L214.88,736.49 M212.55,737.25 L213.99,739.23 M212.55,737.25 L211.11,739.23 M212.55,737.25 L210.22,736.49" stroke="#111" stroke-width="1.3" stroke-linecap="round" fill="none"/>
<path d="M218.95,737.25 L218.95,734.80 M218.95,737.25 L221.28,736.49 M218.95,737.25 L220.39,739.23 M218.95,737.25 L217.51,739.23 M218.95,737.25 L216.62,736.49" stroke="#111" stroke-width="1.3" stroke-linecap="round" fill="none"/>
<line x1="159.50" y1="869.80" x2="159.50" y2="875.20" stroke="#333" stroke-width="1.2" />
<text x="151.07" y="885.70" font-size="8.2" fill="#333" >DEV</text>
<text x="196.72" y="888.50" font-size="16" fill="#111" >DEV</text>
<line x1="190.00" y1="894.60" x2="237.00" y2="894.60" stroke="#222" stroke-width="1.3" />
<text x="141.48" y="916.00" font-size="16" fill="#111" >Significant segment</text>
<text x="165.63" y="932.70" font-size="16.1" fill="#111" >(0.025 - 0.05 s)</text>
<text x="295.12" y="568.90" font-size="23.5" fill="#111" transform="translate(297 0) scale(0.94 1) translate(-297 0)">E</text>
<line x1="326.30" y1="565.20" x2="326.30" y2="870.50" stroke="#333" stroke-width="1.4" />
<line x1="325.60" y1="869.80" x2="574.60" y2="869.80" stroke="#333" stroke-width="1.4" />
<line x1="322.10" y1="869.80" x2="326.30" y2="869.80" stroke="#333" stroke-width="1.2" />
<line x1="322.10" y1="847.37" x2="326.30" y2="847.37" stroke="#333" stroke-width="1.2" />
<line x1="322.10" y1="824.94" x2="326.30" y2="824.94" stroke="#333" stroke-width="1.2" />
<line x1="322.10" y1="802.51" x2="326.30" y2="802.51" stroke="#333" stroke-width="1.2" />
<line x1="322.10" y1="780.08" x2="326.30" y2="780.08" stroke="#333" stroke-width="1.2" />
<line x1="322.10" y1="757.65" x2="326.30" y2="757.65" stroke="#333" stroke-width="1.2" />
<line x1="322.10" y1="735.22" x2="326.30" y2="735.22" stroke="#333" stroke-width="1.2" />
<line x1="322.10" y1="712.79" x2="326.30" y2="712.79" stroke="#333" stroke-width="1.2" />
<line x1="322.10" y1="690.36" x2="326.30" y2="690.36" stroke="#333" stroke-width="1.2" />
<line x1="322.10" y1="667.93" x2="326.30" y2="667.93" stroke="#333" stroke-width="1.2" />
<line x1="322.10" y1="645.50" x2="326.30" y2="645.50" stroke="#333" stroke-width="1.2" />
<line x1="322.10" y1="623.07" x2="326.30" y2="623.07" stroke="#333" stroke-width="1.2" />
<line x1="322.10" y1="600.64" x2="326.30" y2="600.64" stroke="#333" stroke-width="1.2" />
<line x1="322.10" y1="578.21" x2="326.30" y2="578.21" stroke="#333" stroke-width="1.2" />
<rect x="351.10" y="687.00" width="20.90" height="182.80" fill="#df2a36" />
<rect x="377.20" y="694.50" width="20.90" height="175.30" fill="#e68a95" />
<rect x="441.00" y="781.20" width="20.90" height="88.60" fill="#3a8250" />
<rect x="503.00" y="793.30" width="20.90" height="76.50" fill="#3b56a7" />
<rect x="529.20" y="793.30" width="20.90" height="76.50" fill="#93a8d3" />
<line x1="361.90" y1="672.40" x2="361.90" y2="701.30" stroke="#111" stroke-width="1.3" />
<line x1="359.30" y1="672.40" x2="364.50" y2="672.40" stroke="#111" stroke-width="1.3" />
<line x1="359.30" y1="701.30" x2="364.50" y2="701.30" stroke="#111" stroke-width="1.3" />
<line x1="388.00" y1="674.80" x2="388.00" y2="713.50" stroke="#111" stroke-width="1.3" />
<line x1="385.40" y1="674.80" x2="390.60" y2="674.80" stroke="#111" stroke-width="1.3" />
<line x1="385.40" y1="713.50" x2="390.60" y2="713.50" stroke="#111" stroke-width="1.3" />
<line x1="451.30" y1="774.60" x2="451.30" y2="784.60" stroke="#111" stroke-width="1.3" />
<line x1="448.70" y1="774.60" x2="453.90" y2="774.60" stroke="#111" stroke-width="1.3" />
<line x1="448.70" y1="784.60" x2="453.90" y2="784.60" stroke="#111" stroke-width="1.3" />
<line x1="513.30" y1="785.20" x2="513.30" y2="800.40" stroke="#111" stroke-width="1.3" />
<line x1="510.70" y1="785.20" x2="515.90" y2="785.20" stroke="#111" stroke-width="1.3" />
<line x1="510.70" y1="800.40" x2="515.90" y2="800.40" stroke="#111" stroke-width="1.3" />
<line x1="539.60" y1="789.40" x2="539.60" y2="796.20" stroke="#111" stroke-width="1.3" />
<line x1="537.00" y1="789.40" x2="542.20" y2="789.40" stroke="#111" stroke-width="1.3" />
<line x1="537.00" y1="796.20" x2="542.20" y2="796.20" stroke="#111" stroke-width="1.3" />
<circle cx="358.60" cy="599.20" r="2.45" fill="none" stroke="#111" stroke-width="1.0"/>
<circle cx="365.60" cy="598.40" r="2.45" fill="none" stroke="#111" stroke-width="1.0"/>
<circle cx="358.10" cy="603.30" r="2.45" fill="none" stroke="#111" stroke-width="1.0"/>
<circle cx="357.10" cy="619.80" r="2.45" fill="none" stroke="#111" stroke-width="1.0"/>
<circle cx="360.10" cy="629.50" r="2.45" fill="none" stroke="#111" stroke-width="1.0"/>
<circle cx="365.10" cy="631.70" r="2.45" fill="none" stroke="#111" stroke-width="1.0"/>
<circle cx="357.40" cy="653.40" r="2.45" fill="none" stroke="#111" stroke-width="1.0"/>
<circle cx="354.70" cy="657.20" r="2.45" fill="none" stroke="#111" stroke-width="1.0"/>
<circle cx="359.60" cy="680.30" r="2.45" fill="none" stroke="#111" stroke-width="1.0"/>
<circle cx="364.40" cy="683.30" r="2.45" fill="none" stroke="#111" stroke-width="1.0"/>
<circle cx="367.50" cy="691.50" r="2.45" fill="none" stroke="#111" stroke-width="1.0"/>
<circle cx="360.30" cy="681.10" r="2.45" fill="none" stroke="#111" stroke-width="1.0"/>
<circle cx="364.50" cy="683.20" r="2.45" fill="none" stroke="#111" stroke-width="1.0"/>
<circle cx="367.70" cy="691.10" r="2.45" fill="none" stroke="#111" stroke-width="1.0"/>
<circle cx="361.30" cy="705.60" r="2.45" fill="none" stroke="#111" stroke-width="1.0"/>
<circle cx="367.10" cy="713.70" r="2.45" fill="none" stroke="#111" stroke-width="1.0"/>
<circle cx="369.20" cy="721.00" r="2.45" fill="none" stroke="#111" stroke-width="1.0"/>
<circle cx="366.20" cy="723.10" r="2.45" fill="none" stroke="#111" stroke-width="1.0"/>
<circle cx="355.60" cy="735.90" r="2.45" fill="none" stroke="#111" stroke-width="1.0"/>
<circle cx="362.80" cy="744.00" r="2.45" fill="none" stroke="#111" stroke-width="1.0"/>
<circle cx="357.10" cy="780.70" r="2.45" fill="none" stroke="#111" stroke-width="1.0"/>
<circle cx="362.80" cy="788.20" r="2.45" fill="none" stroke="#111" stroke-width="1.0"/>
<circle cx="370.30" cy="784.60" r="2.45" fill="none" stroke="#111" stroke-width="1.0"/>
<circle cx="457.70" cy="749.60" r="2.45" fill="none" stroke="#111" stroke-width="1.0"/>
<circle cx="449.60" cy="754.20" r="2.45" fill="none" stroke="#111" stroke-width="1.0"/>
<circle cx="446.50" cy="757.70" r="2.45" fill="none" stroke="#111" stroke-width="1.0"/>
<circle cx="445.20" cy="759.20" r="2.45" fill="none" stroke="#111" stroke-width="1.0"/>
<circle cx="444.20" cy="766.90" r="2.45" fill="none" stroke="#111" stroke-width="1.0"/>
<circle cx="451.90" cy="767.90" r="2.45" fill="none" stroke="#111" stroke-width="1.0"/>
<circle cx="458.70" cy="775.60" r="2.45" fill="none" stroke="#111" stroke-width="1.0"/>
<circle cx="456.70" cy="777.50" r="2.45" fill="none" stroke="#111" stroke-width="1.0"/>
<circle cx="445.80" cy="779.20" r="2.45" fill="none" stroke="#111" stroke-width="1.0"/>
<circle cx="451.50" cy="779.20" r="2.45" fill="none" stroke="#111" stroke-width="1.0"/>
<circle cx="453.50" cy="780.80" r="2.45" fill="none" stroke="#111" stroke-width="1.0"/>
<circle cx="443.80" cy="783.80" r="2.45" fill="none" stroke="#111" stroke-width="1.0"/>
<circle cx="450.40" cy="783.10" r="2.45" fill="none" stroke="#111" stroke-width="1.0"/>
<circle cx="451.50" cy="788.50" r="2.45" fill="none" stroke="#111" stroke-width="1.0"/>
<circle cx="457.70" cy="790.00" r="2.45" fill="none" stroke="#111" stroke-width="1.0"/>
<circle cx="448.50" cy="791.30" r="2.45" fill="none" stroke="#111" stroke-width="1.0"/>
<circle cx="447.10" cy="798.10" r="2.45" fill="none" stroke="#111" stroke-width="1.0"/>
<circle cx="448.50" cy="801.90" r="2.45" fill="none" stroke="#111" stroke-width="1.0"/>
<circle cx="506.70" cy="688.30" r="2.45" fill="none" stroke="#111" stroke-width="1.0"/>
<circle cx="507.90" cy="736.20" r="2.45" fill="none" stroke="#111" stroke-width="1.0"/>
<circle cx="505.00" cy="768.70" r="2.45" fill="none" stroke="#111" stroke-width="1.0"/>
<circle cx="514.20" cy="776.00" r="2.45" fill="none" stroke="#111" stroke-width="1.0"/>
<circle cx="515.80" cy="786.00" r="2.45" fill="none" stroke="#111" stroke-width="1.0"/>
<circle cx="505.00" cy="788.80" r="2.45" fill="none" stroke="#111" stroke-width="1.0"/>
<circle cx="506.50" cy="791.90" r="2.45" fill="none" stroke="#111" stroke-width="1.0"/>
<circle cx="517.10" cy="795.80" r="2.45" fill="none" stroke="#111" stroke-width="1.0"/>
<circle cx="510.00" cy="797.70" r="2.45" fill="none" stroke="#111" stroke-width="1.0"/>
<circle cx="510.40" cy="801.30" r="2.45" fill="none" stroke="#111" stroke-width="1.0"/>
<circle cx="519.00" cy="803.80" r="2.45" fill="none" stroke="#111" stroke-width="1.0"/>
<circle cx="504.20" cy="806.70" r="2.45" fill="none" stroke="#111" stroke-width="1.0"/>
<circle cx="506.20" cy="808.70" r="2.45" fill="none" stroke="#111" stroke-width="1.0"/>
<circle cx="509.40" cy="809.20" r="2.45" fill="none" stroke="#111" stroke-width="1.0"/>
<circle cx="513.30" cy="810.60" r="2.45" fill="none" stroke="#111" stroke-width="1.0"/>
<circle cx="508.10" cy="811.90" r="2.45" fill="none" stroke="#111" stroke-width="1.0"/>
<circle cx="519.00" cy="811.20" r="2.45" fill="none" stroke="#111" stroke-width="1.0"/>
<circle cx="516.50" cy="816.90" r="2.45" fill="none" stroke="#111" stroke-width="1.0"/>
<circle cx="506.20" cy="823.70" r="2.45" fill="none" stroke="#111" stroke-width="1.0"/>
<circle cx="510.00" cy="827.30" r="2.45" fill="none" stroke="#111" stroke-width="1.0"/>
<circle cx="383.50" cy="569.40" r="2.45" fill="none" stroke="#6a6a6a" stroke-width="1.0"/>
<circle cx="382.00" cy="584.20" r="2.45" fill="none" stroke="#6a6a6a" stroke-width="1.0"/>
<circle cx="393.50" cy="590.90" r="2.45" fill="none" stroke="#6a6a6a" stroke-width="1.0"/>
<circle cx="384.60" cy="595.10" r="2.45" fill="none" stroke="#6a6a6a" stroke-width="1.0"/>
<circle cx="387.00" cy="610.50" r="2.45" fill="none" stroke="#6a6a6a" stroke-width="1.0"/>
<circle cx="387.60" cy="639.20" r="2.45" fill="none" stroke="#6a6a6a" stroke-width="1.0"/>
<circle cx="384.60" cy="646.70" r="2.45" fill="none" stroke="#6a6a6a" stroke-width="1.0"/>
<circle cx="382.50" cy="654.20" r="2.45" fill="none" stroke="#6a6a6a" stroke-width="1.0"/>
<circle cx="381.60" cy="659.90" r="2.45" fill="none" stroke="#6a6a6a" stroke-width="1.0"/>
<circle cx="394.40" cy="691.20" r="2.45" fill="none" stroke="#6a6a6a" stroke-width="1.0"/>
<circle cx="395.90" cy="701.30" r="2.45" fill="none" stroke="#6a6a6a" stroke-width="1.0"/>
<circle cx="380.50" cy="709.90" r="2.45" fill="none" stroke="#6a6a6a" stroke-width="1.0"/>
<circle cx="393.40" cy="739.30" r="2.45" fill="none" stroke="#6a6a6a" stroke-width="1.0"/>
<circle cx="392.90" cy="753.60" r="2.45" fill="none" stroke="#6a6a6a" stroke-width="1.0"/>
<circle cx="395.10" cy="767.50" r="2.45" fill="none" stroke="#6a6a6a" stroke-width="1.0"/>
<circle cx="382.70" cy="773.90" r="2.45" fill="none" stroke="#6a6a6a" stroke-width="1.0"/>
<circle cx="394.40" cy="776.50" r="2.45" fill="none" stroke="#6a6a6a" stroke-width="1.0"/>
<circle cx="389.50" cy="787.80" r="2.45" fill="none" stroke="#6a6a6a" stroke-width="1.0"/>
<circle cx="535.00" cy="746.70" r="2.45" fill="none" stroke="#6a6a6a" stroke-width="1.0"/>
<circle cx="545.00" cy="761.90" r="2.45" fill="none" stroke="#6a6a6a" stroke-width="1.0"/>
<circle cx="531.50" cy="778.80" r="2.45" fill="none" stroke="#6a6a6a" stroke-width="1.0"/>
<circle cx="537.30" cy="785.60" r="2.45" fill="none" stroke="#6a6a6a" stroke-width="1.0"/>
<circle cx="541.20" cy="794.20" r="2.45" fill="none" stroke="#6a6a6a" stroke-width="1.0"/>
<circle cx="534.40" cy="795.20" r="2.45" fill="none" stroke="#6a6a6a" stroke-width="1.0"/>
<circle cx="533.10" cy="798.10" r="2.45" fill="none" stroke="#6a6a6a" stroke-width="1.0"/>
<circle cx="538.30" cy="799.00" r="2.45" fill="none" stroke="#6a6a6a" stroke-width="1.0"/>
<circle cx="541.20" cy="801.50" r="2.45" fill="none" stroke="#6a6a6a" stroke-width="1.0"/>
<circle cx="537.70" cy="801.90" r="2.45" fill="none" stroke="#6a6a6a" stroke-width="1.0"/>
<circle cx="540.80" cy="804.80" r="2.45" fill="none" stroke="#6a6a6a" stroke-width="1.0"/>
<circle cx="542.70" cy="809.00" r="2.45" fill="none" stroke="#6a6a6a" stroke-width="1.0"/>
<line x1="361.10" y1="623.90" x2="514.00" y2="623.90" stroke="#111" stroke-width="1.8" />
<line x1="388.00" y1="637.90" x2="540.90" y2="637.90" stroke="#111" stroke-width="1.8" />
<line x1="361.10" y1="651.50" x2="451.90" y2="651.50" stroke="#111" stroke-width="1.8" />
<line x1="387.30" y1="665.50" x2="451.90" y2="665.50" stroke="#111" stroke-width="1.8" />
<path d="M432.65,618.25 L432.65,615.80 M432.65,618.25 L434.98,617.49 M432.65,618.25 L434.09,620.23 M432.65,618.25 L431.21,620.23 M432.65,618.25 L430.32,617.49" stroke="#111" stroke-width="1.3" stroke-linecap="round" fill="none"/>
<path d="M439.05,618.25 L439.05,615.80 M439.05,618.25 L441.38,617.49 M439.05,618.25 L440.49,620.23 M439.05,618.25 L437.61,620.23 M439.05,618.25 L436.72,617.49" stroke="#111" stroke-width="1.3" stroke-linecap="round" fill="none"/>
<path d="M445.45,618.25 L445.45,615.80 M445.45,618.25 L447.78,617.49 M445.45,618.25 L446.89,620.23 M445.45,618.25 L444.01,620.23 M445.45,618.25 L443.12,617.49" stroke="#111" stroke-width="1.3" stroke-linecap="round" fill="none"/>
<path d="M461.45,632.25 L461.45,629.80 M461.45,632.25 L463.78,631.49 M461.45,632.25 L462.89,634.23 M461.45,632.25 L460.01,634.23 M461.45,632.25 L459.12,631.49" stroke="#111" stroke-width="1.3" stroke-linecap="round" fill="none"/>
<path d="M467.85,632.25 L467.85,629.80 M467.85,632.25 L470.18,631.49 M467.85,632.25 L469.29,634.23 M467.85,632.25 L466.41,634.23 M467.85,632.25 L465.52,631.49" stroke="#111" stroke-width="1.3" stroke-linecap="round" fill="none"/>
<path d="M401.65,646.05 L401.65,643.60 M401.65,646.05 L403.98,645.29 M401.65,646.05 L403.09,648.03 M401.65,646.05 L400.21,648.03 M401.65,646.05 L399.32,645.29" stroke="#111" stroke-width="1.3" stroke-linecap="round" fill="none"/>
<path d="M408.05,646.05 L408.05,643.60 M408.05,646.05 L410.38,645.29 M408.05,646.05 L409.49,648.03 M408.05,646.05 L406.61,648.03 M408.05,646.05 L405.72,645.29" stroke="#111" stroke-width="1.3" stroke-linecap="round" fill="none"/>
<path d="M414.45,646.05 L414.45,643.60 M414.45,646.05 L416.78,645.29 M414.45,646.05 L415.89,648.03 M414.45,646.05 L413.01,648.03 M414.45,646.05 L412.12,645.29" stroke="#111" stroke-width="1.3" stroke-linecap="round" fill="none"/>
<path d="M414.75,660.15 L414.75,657.70 M414.75,660.15 L417.08,659.39 M414.75,660.15 L416.19,662.13 M414.75,660.15 L413.31,662.13 M414.75,660.15 L412.42,659.39" stroke="#111" stroke-width="1.3" stroke-linecap="round" fill="none"/>
<path d="M421.15,660.15 L421.15,657.70 M421.15,660.15 L423.48,659.39 M421.15,660.15 L422.59,662.13 M421.15,660.15 L419.71,662.13 M421.15,660.15 L418.82,659.39" stroke="#111" stroke-width="1.3" stroke-linecap="round" fill="none"/>
<path d="M427.55,660.15 L427.55,657.70 M427.55,660.15 L429.88,659.39 M427.55,660.15 L428.99,662.13 M427.55,660.15 L426.11,662.13 M427.55,660.15 L425.22,659.39" stroke="#111" stroke-width="1.3" stroke-linecap="round" fill="none"/>
<text x="357.31" y="889.00" font-size="16.1" fill="#111" >DEV</text>
<text x="434.59" y="889.00" font-size="16.1" fill="#111" >CTR</text>
<text x="509.48" y="889.00" font-size="16.1" fill="#111" >STD</text>
<line x1="351.20" y1="894.50" x2="550.30" y2="894.50" stroke="#222" stroke-width="1.3" />
<text x="390.50" y="916.10" font-size="16" fill="#111" >Analysis window</text>
<text x="404.53" y="933.00" font-size="16.1" fill="#111" >(0.25 - 0.65 s)</text>
</svg>
</body></html>
